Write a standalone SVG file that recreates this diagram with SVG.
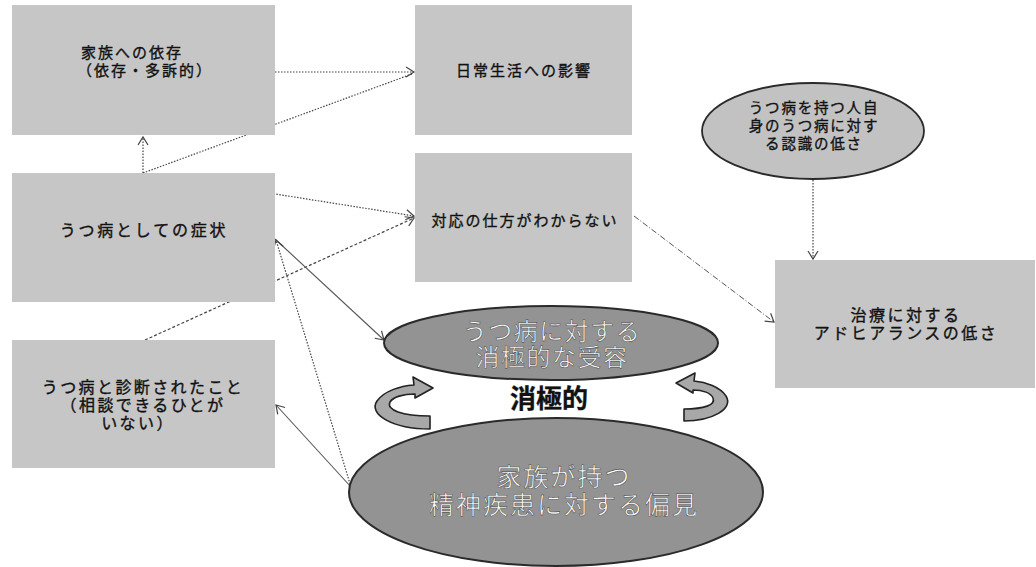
<svg xmlns="http://www.w3.org/2000/svg" width="1036" height="567" viewBox="0 0 1036 567">
<defs>
<style>
.box{fill:#c6c6c6;}
.dark{fill:#939393;stroke:#2a2a2a;stroke-width:2;}
.light{fill:#c2c2c2;stroke:#2a2a2a;stroke-width:1.8;}
.t{font-family:"Noto Sans CJK JP","Noto Sans",sans-serif;fill:#111;stroke:#111;stroke-width:0.35;text-anchor:middle;}
.w{font-family:"Noto Sans CJK JP","Noto Sans",sans-serif;fill:#fff;stroke:#555;stroke-width:0.6;text-anchor:middle;}
.dot{fill:none;stroke:#444;stroke-width:1.2;stroke-dasharray:1.5 1.5;}
.dash{fill:none;stroke:#444;stroke-width:1.2;stroke-dasharray:3 2;}
.dd{fill:none;stroke:#555;stroke-width:1;stroke-dasharray:6 2 1 2;}
.sol{fill:none;stroke:#555;stroke-width:1.1;}
.curv{fill:#a8a8a8;stroke:#222;stroke-width:1.6;stroke-linejoin:round;}
</style>
<marker id="ah" markerUnits="userSpaceOnUse" markerWidth="14" markerHeight="14" refX="10" refY="7" orient="auto">
<path d="M2,2 L10,7 L2,12" fill="none" stroke="#444" stroke-width="1.2"/>
</marker>
</defs>

<g id="connectors">
<line class="dot" x1="275" y1="72" x2="414" y2="72" marker-end="url(#ah)"/>
<line class="dot" x1="143" y1="173" x2="143" y2="137" marker-end="url(#ah)"/>
<line class="dot" x1="143" y1="173" x2="412" y2="74"/>
<line class="dot" x1="143" y1="173" x2="414" y2="216" marker-end="url(#ah)"/>
<line class="dash" x1="145" y1="340" x2="414" y2="218" marker-end="url(#ah)"/>
<line class="dd" x1="634" y1="216" x2="774" y2="322" marker-end="url(#ah)"/>
<line class="dot" x1="813" y1="180" x2="813" y2="259" marker-end="url(#ah)"/>
<line class="sol" x1="275" y1="239" x2="384" y2="340" marker-end="url(#ah)"/>
<line class="dot" x1="351" y1="487" x2="276" y2="240" marker-end="url(#ah)"/>
<line class="sol" x1="351" y1="487" x2="276" y2="405" marker-end="url(#ah)"/>
</g>

<g id="n-izon">
<rect class="box" x="12" y="5" width="263" height="130"/>
<text class="t" font-size="15" letter-spacing="2"><tspan x="132" y="58">家族への依存</tspan><tspan x="145" y="76">（依存・多訴的）</tspan></text>
</g>

<g id="n-nichijo">
<rect class="box" x="415" y="5" width="217" height="130"/>
<text class="t" x="524" y="76" font-size="15" letter-spacing="2">日常生活への影響</text>
</g>

<g id="n-taio">
<rect class="box" x="415" y="153" width="217" height="129"/>
<text class="t" x="525" y="226" font-size="15" letter-spacing="2">対応の仕方がわからない</text>
</g>

<g id="n-ninshiki">
<ellipse class="light" cx="813" cy="131" rx="111" ry="48"/>
<text class="t" font-size="14.5" letter-spacing="1.8"><tspan x="814" y="113">うつ病を持つ人自</tspan><tspan x="814" y="131">身のうつ病に対す</tspan><tspan x="814" y="149">る認識の低さ</tspan></text>
</g>

<g id="n-adherence">
<rect class="box" x="775" y="260" width="260" height="128"/>
<text class="t" font-size="16" letter-spacing="2.5"><tspan x="906" y="321">治療に対する</tspan><tspan x="906" y="339">アドヒアランスの低さ</tspan></text>
</g>

<g id="n-shojo">
<rect class="box" x="12" y="173" width="263" height="129"/>
<text class="t" x="144" y="236" font-size="16" letter-spacing="2.8">うつ病としての症状</text>
</g>

<g id="n-shindan">
<rect class="box" x="12" y="340" width="263" height="128"/>
<text class="t" font-size="16" letter-spacing="2.4"><tspan x="143" y="393">うつ病と診断されたこと</tspan><tspan x="143" y="411">（相談できるひとが</tspan><tspan x="138" y="429">いない）</tspan></text>
</g>

<g id="n-juyo">
<ellipse class="dark" cx="551" cy="343" rx="167" ry="37"/>
<text class="w" font-size="24" letter-spacing="1.5"><tspan x="552" y="340">うつ病に対する</tspan><tspan x="552" y="366">消極的な受容</tspan></text>
</g>

<g id="n-henken">
<ellipse class="dark" cx="556" cy="492" rx="207" ry="74"/>
<text class="w" font-size="25" letter-spacing="2"><tspan x="564" y="486">家族が持つ</tspan><tspan x="564" y="514">精神疾患に対する偏見</tspan></text>
</g>

<g id="n-shokyoku">
<path class="curv" d="M430,429 C392,429 368,414 377,401 C384,391 400,386 414,385 L413,377 L433,388 L415,398 L415,394 C403,394 393,397 390,402 C386,410 402,416 430,416 Z"/>
<path class="curv" d="M684,421 C712,421 734,409 726,396 C720,387 706,382 694,381 L695,373 L676,383 L693,393 L693,390 C703,390 711,393 713,398 C716,405 704,409 684,409 Z"/>
<text class="t" x="549" y="408" font-size="26" font-weight="bold" stroke-width="0">消極的</text>
</g>
</svg>
